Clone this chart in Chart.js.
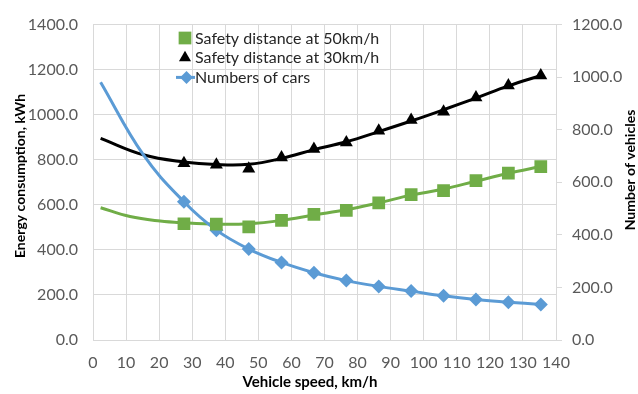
<!DOCTYPE html>
<html>
<head>
<meta charset="utf-8">
<script src="https://cdn.jsdelivr.net/npm/chart.js@4"></script>
<style>
  html, body { margin: 0; padding: 0; background: #fff; }
  #wrap { width: 638px; height: 394px; }
</style>
</head>
<body>
<div id="wrap"><canvas id="chart" width="638" height="394"></canvas></div>
<script>
// marker positions (km/h) and values
const speeds = [27.5, 37.3, 47.1, 57.0, 66.8, 76.6, 86.4, 96.2, 106.0, 115.8, 125.6, 135.4];
const safety30 = [785, 778, 760, 810, 848, 877, 929, 976, 1013, 1076, 1130, 1174];
const safety50 = [516, 514, 502, 531, 558, 575, 609, 645, 663, 707, 741, 770];
const cars = [526, 418, 346, 295, 256, 226, 204, 186, 168, 154, 144, 135];

// smooth curves drawn through the markers (no markers on them)
const trend30Speeds = [2.3, 15.2, 27.5, 37.3, 47.1, 57.0, 66.8, 76.6, 86.4, 96.2, 106.0, 115.8, 125.6, 135.4];
const trend30 = [895, 822, 790, 779, 780, 806, 845, 880, 925, 972, 1022, 1074, 1128, 1174];
const trend50Speeds = [2.3, 11.2, 20.3, 27.5, 37.3, 47.1, 57.0, 66.8, 76.6, 86.4, 96.2, 106.0, 115.8, 125.6, 135.4];
const trend50 = [587, 548, 528, 520, 514, 516, 531, 555, 578, 609, 643, 670, 705, 740, 770];
const carsLeadSpeeds = [2.3, 15.2];
const carsLead = [981, 705];

const xTitle = "Vehicle speed, km/h";
const yTitle = "Energy consumption, kWh";
const y2Title = "Number of vehicles";

const GREEN = "#70ad47";
const BLACK = "#000000";
const BLUE = "#5b9bd5";
const GRID = "#d9d9d9";
const TICK = "#595959";
const FONT = "Lato, 'Open Sans', sans-serif";

const pts = (xs, ys) => xs.map((x, i) => ({ x, y: ys[i] }));

const carsLine = pts(carsLeadSpeeds.concat(speeds), carsLead.concat(cars));

function drawMarker(ctx, style, color, r, x, y) {
  ctx.fillStyle = color;
  ctx.beginPath();
  if (style === "rect") {
    const s = r * Math.SQRT1_2;
    ctx.rect(x - s, y - s, 2 * s, 2 * s);
  } else if (style === "triangle") {
    ctx.moveTo(x, y - r);
    ctx.lineTo(x + r * 0.866, y + r / 2);
    ctx.lineTo(x - r * 0.866, y + r / 2);
    ctx.closePath();
  } else {
    ctx.moveTo(x, y - r);
    ctx.lineTo(x + r, y);
    ctx.lineTo(x, y + r);
    ctx.lineTo(x - r, y);
    ctx.closePath();
  }
  ctx.fill();
}

// legend inside the plot (top left) and the three axis titles
const extras = {
  id: "extras",
  afterDraw(chart) {
    const ctx = chart.ctx;
    const x0 = 185, y0 = 38, dy = 19.7;
    ctx.save();
    ctx.font = "16px " + FONT;
    ctx.textBaseline = "middle";
    chart.data.datasets.filter(d => d.legendRow != null).forEach(d => {
      const y = y0 + d.legendRow * dy;
      if (d.showLine !== false) {
        ctx.strokeStyle = d.borderColor;
        ctx.lineWidth = 3;
        ctx.beginPath();
        ctx.moveTo(x0 - 9, y);
        ctx.lineTo(x0 + 10, y);
        ctx.stroke();
      }
      drawMarker(ctx, d.pointStyle, d.pointBackgroundColor, d.legendRadius, x0 + (d.showLine !== false ? 1.5 : 0), y);
      ctx.fillStyle = "#262626";
      ctx.fillText(d.label, 195, y + 0.5);
    });

    ctx.fillStyle = "#000";
    ctx.textAlign = "center";
    ctx.font = "bold 15px " + FONT;
    ctx.fillText(xTitle, 310, 382);

    ctx.font = "bold 14px " + FONT;
    ctx.save();
    ctx.translate(20, 176);
    ctx.rotate(-Math.PI / 2);
    ctx.fillText(yTitle, 0, 0);
    ctx.restore();

    ctx.save();
    ctx.translate(630, 170);
    ctx.rotate(-Math.PI / 2);
    ctx.fillText(y2Title, 0, 0);
    ctx.restore();

    ctx.restore();
  }
};

new Chart(document.getElementById("chart"), {
  type: "scatter",
  data: {
    datasets: [
      {
        label: "Safety distance at 50km/h",
        legendRow: 0,
        legendRadius: 9,
        data: pts(speeds, safety50),
        showLine: false,
        pointStyle: "rect",
        pointRadius: 9,
        pointBackgroundColor: GREEN,
        pointBorderWidth: 0,
        borderColor: GREEN,
        yAxisID: "y"
      },
      {
        label: "Safety distance at 30km/h",
        legendRow: 1,
        legendRadius: 7,
        data: pts(speeds, safety30),
        showLine: false,
        pointStyle: "triangle",
        pointRadius: 7.5,
        pointBackgroundColor: BLACK,
        pointBorderWidth: 0,
        borderColor: BLACK,
        yAxisID: "y"
      },
      {
        label: "Numbers of cars",
        legendRow: 2,
        legendRadius: 6.5,
        data: carsLine,
        showLine: true,
        tension: 0.4,
        borderColor: BLUE,
        borderWidth: 3,
        pointStyle: "rectRot",
        pointRadius: (c) => c.dataIndex < carsLead.length ? 0 : 7,
        pointBackgroundColor: BLUE,
        pointBorderWidth: 0,
        yAxisID: "y2"
      },
      {
        label: "",
        data: pts(trend30Speeds, trend30),
        showLine: true,
        tension: 0.4,
        borderColor: BLACK,
        borderWidth: 3,
        pointRadius: 0,
        yAxisID: "y"
      },
      {
        label: "",
        data: pts(trend50Speeds, trend50),
        showLine: true,
        tension: 0.4,
        borderColor: GREEN,
        borderWidth: 3,
        pointRadius: 0,
        yAxisID: "y"
      }
    ]
  },
  options: {
    responsive: false,
    animation: false,
    events: [],
    layout: { padding: { top: 22, left: 0, right: 0, bottom: 0 } },
    plugins: {
      legend: { display: false },
      tooltip: { enabled: false }
    },
    scales: {
      x: {
        type: "linear",
        min: 0,
        max: 140,
        afterFit: (s) => { s.height = 54; },
        ticks: { stepSize: 10, color: TICK, font: { family: FONT, size: 16 }, padding: 13, maxRotation: 0 },
        grid: { color: GRID, drawTicks: false },
        border: { color: GRID }
      },
      y: {
        position: "left",
        min: 0,
        max: 1400,
        afterFit: (s) => { s.width = 93; },
        ticks: { stepSize: 200, color: TICK, font: { family: FONT, size: 16 }, padding: 15, callback: (v) => v.toFixed(1) },
        grid: { color: GRID, drawTicks: false },
        border: { color: GRID }
      },
      y2: {
        position: "right",
        min: 0,
        max: 1200,
        afterFit: (s) => { s.width = 82; },
        ticks: { stepSize: 200, color: TICK, font: { family: FONT, size: 16 }, padding: 10, callback: (v) => v.toFixed(1) },
        grid: { color: GRID, drawOnChartArea: false, drawTicks: true, tickLength: 6 },
        border: { color: GRID }
      }
    }
  },
  plugins: [extras]
});
</script>
</body>
</html>
